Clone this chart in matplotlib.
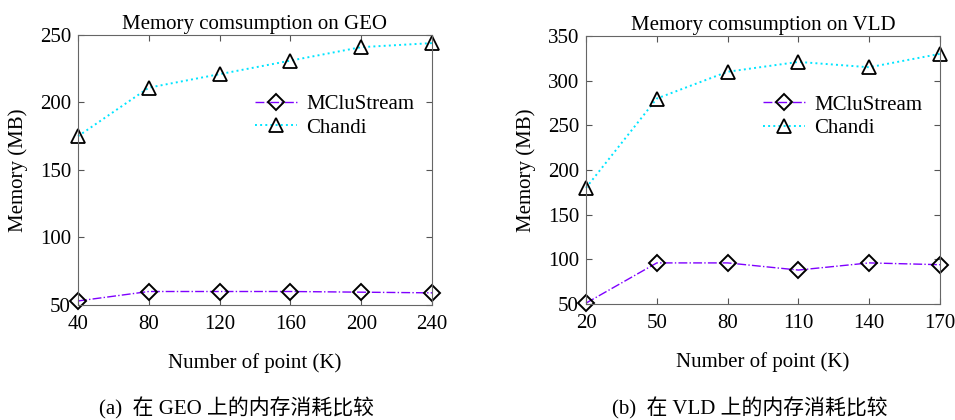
import matplotlib
matplotlib.use('Agg')
import matplotlib.pyplot as plt

plt.rcParams['font.family'] = ['Liberation Serif', 'Noto Sans CJK SC']

geo_x = [40, 80, 120, 160, 200, 240]
geo_mclu = [53, 60, 60, 60, 59.5, 59]
geo_chandi = [175, 211, 221, 231, 241, 244]

vld_x = [20, 50, 80, 110, 140, 170]
vld_mclu = [51, 96, 96, 88, 96, 94]
vld_chandi = [180, 280, 310, 321, 315, 330]

fig = plt.figure(figsize=(9.55, 4.2), dpi=100)
ax1 = fig.add_axes([78 / 955, 1 - 305 / 420, 354 / 955, 270 / 420])
ax2 = fig.add_axes([586 / 955, 1 - 304 / 420, 354 / 955, 268 / 420])


def draw(ax, x, mclu, chandi, title, ylim, yticks):
    ax.plot(x, mclu, linestyle='-.', color='#7f00ff', lw=1.0, marker='D',
            ms=8, mfc='none', mec='black', mew=1.4, label='MCluStream',
            clip_on=False)
    ax.plot(x, chandi, linestyle=':', color='#00e5ff', lw=1.4, marker='^',
            ms=10, mfc='none', mec='black', mew=1.3, label='Chandi',
            clip_on=False)
    ax.set_xlim(x[0], x[-1])
    ax.set_ylim(*ylim)
    ax.set_xticks(x)
    ax.set_yticks(yticks)
    ax.tick_params(direction='in', top=True, right=True, labelsize=15,
                   length=4, color='#555555', pad=5)
    ax.tick_params(axis='x', pad=7)
    for s in ax.spines.values():
        s.set_color('#666666')
    ax.set_title(title, fontsize=15, pad=4)
    ax.set_xlabel('Number of point (K)', fontsize=15, labelpad=14)
    ax.set_ylabel('Memory (MB)', fontsize=15)
    ax.yaxis.set_label_coords(-0.14, 0.5)
    ax.legend(loc='upper left', bbox_to_anchor=(0.5, 0.78), frameon=False,
              fontsize=15, handlelength=2.0, handletextpad=0.45,
              labelspacing=0.2, borderaxespad=0, borderpad=0)


draw(ax1, geo_x, geo_mclu, geo_chandi, 'Memory comsumption on GEO',
     (50, 250), [50, 100, 150, 200, 250])
draw(ax2, vld_x, vld_mclu, vld_chandi, 'Memory comsumption on VLD',
     (50, 350), [50, 100, 150, 200, 250, 300, 350])

fig.text(236 / 955, 1 - 408 / 420, '(a)  在 GEO 上的内存消耗比较', ha='center',
         va='center', fontsize=15)
fig.text(750 / 955, 1 - 408 / 420, '(b)  在 VLD 上的内存消耗比较', ha='center',
         va='center', fontsize=15)

fig.savefig('out.png', dpi=100)
